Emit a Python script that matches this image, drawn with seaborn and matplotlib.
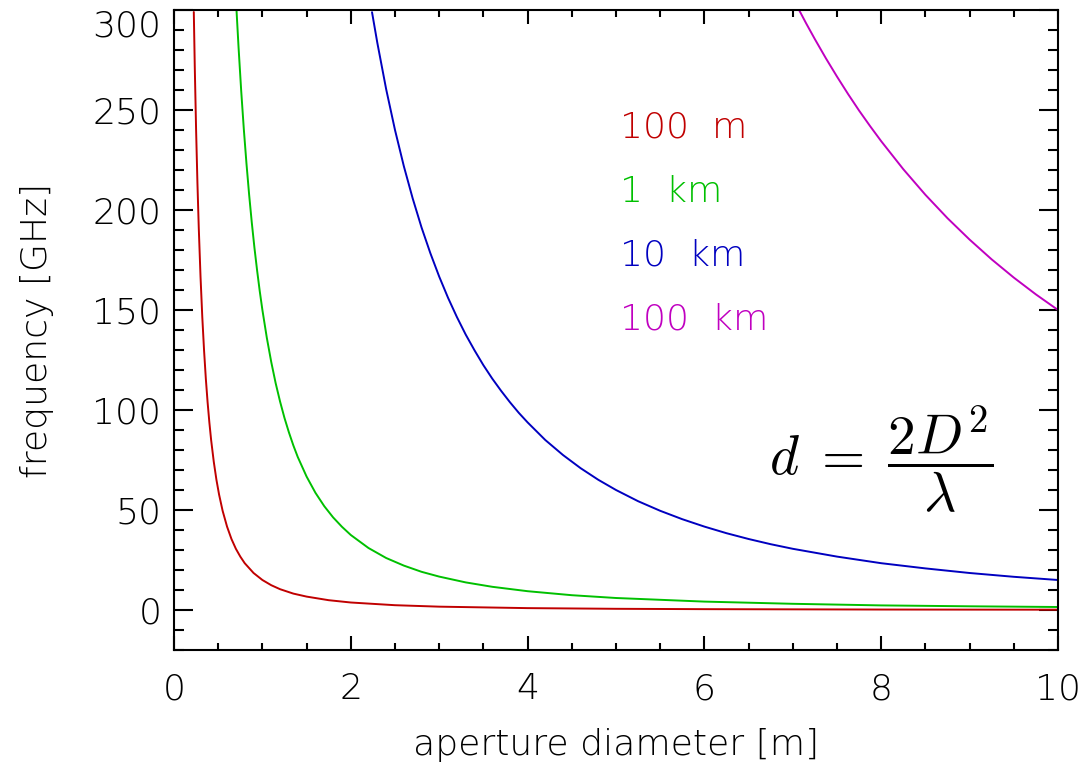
import seaborn as sns
import matplotlib.pyplot as plt
import pandas as pd

# aperture diameter [m] and frequency [GHz]
d_100m = [0.224, 0.235, 0.25, 0.265, 0.28, 0.3, 0.32, 0.34, 0.36, 0.38, 0.4, 0.42, 0.45, 0.48,
          0.51, 0.55, 0.6, 0.65, 0.7, 0.75, 0.8, 0.9, 1.0, 1.1, 1.2, 1.35, 1.5, 1.75, 2.0,
          2.5, 3.0, 4.0, 5.0, 6.0, 8.0, 10.0]
f_100m = [299, 271.6, 240, 213.6, 191.3, 166.7, 146.5, 129.8, 115.7, 103.9, 93.8, 85.0, 74.1, 65.1,
          57.7, 49.6, 41.7, 35.5, 30.6, 26.7, 23.4, 18.5, 15.0, 12.4, 10.4, 8.2, 6.7, 4.9, 3.75,
          2.4, 1.67, 0.94, 0.6, 0.42, 0.23, 0.15]

d_1km = [0.707, 0.73, 0.76, 0.79, 0.82, 0.85, 0.88, 0.91, 0.94, 0.97, 1.0, 1.05, 1.1, 1.15,
         1.2, 1.25, 1.3, 1.35, 1.4, 1.5, 1.6, 1.7, 1.8, 1.9, 2.0, 2.2, 2.4, 2.6, 2.8, 3.0,
         3.3, 3.6, 4.0, 4.5, 5.0, 6.0, 7.0, 8.0, 9.0, 10.0]
f_1km = [300, 281.5, 259.7, 240.3, 223.1, 207.6, 193.7, 181.1, 169.8, 159.4, 150, 136.1, 124.0, 113.4,
         104.2, 96.0, 88.8, 82.3, 76.5, 66.7, 58.6, 51.9, 46.3, 41.6, 37.5, 31.0, 26.0, 22.2, 19.1, 16.7,
         13.8, 11.6, 9.4, 7.4, 6.0, 4.2, 3.1, 2.3, 1.85, 1.5]

d_10km = [2.24, 2.3, 2.4, 2.5, 2.6, 2.7, 2.8, 2.9, 3.0, 3.1, 3.2, 3.3, 3.4, 3.5, 3.6, 3.7,
          3.8, 3.9, 4.0, 4.2, 4.4, 4.6, 4.8, 5.0, 5.25, 5.5, 5.75, 6.0, 6.25, 6.5, 6.75,
          7.0, 7.5, 8.0, 8.5, 9.0, 9.5, 10.0]
f_10km = [298.9, 283.6, 260.4, 240.0, 221.9, 205.8, 191.3, 178.4, 166.7, 156.1, 146.5, 137.7, 129.8,
          122.4, 115.7, 109.6, 103.9, 98.6, 93.8, 85.0, 77.5, 70.9, 65.1, 60.0, 54.4, 49.6, 45.4,
          41.7, 38.4, 35.5, 32.9, 30.6, 26.7, 23.4, 20.8, 18.5, 16.6, 15.0]

d_100km = [7.071, 7.15, 7.25, 7.375, 7.5, 7.625, 7.75, 7.875, 8.0, 8.25, 8.5, 8.75, 9.0,
           9.25, 9.5, 9.75, 10.0]
f_100km = [300, 293.4, 285.4, 275.8, 266.7, 258.0, 249.7, 241.9, 234.4, 220.4, 207.6, 195.9, 185.2,
           175.3, 166.2, 157.8, 150.0]

labels = ["100  m", "1  km", "10  km", "100  km"]
colors = ["#c00000", "#00c000", "#0000c0", "#c000c0"]

sns.set_style("ticks")
plt.rcParams['font.family'] = ['DejaVu Sans']
plt.rcParams['font.weight'] = 'light'
plt.rcParams['axes.labelweight'] = 'light'
plt.rcParams['text.color'] = 'black'
plt.rcParams['axes.labelcolor'] = 'black'
plt.rcParams['xtick.color'] = 'black'
plt.rcParams['ytick.color'] = 'black'
plt.rcParams['mathtext.fontset'] = 'cm'

fig = plt.figure(figsize=(10.85, 7.7), dpi=100)
ax = fig.add_axes([174 / 1085, 120 / 770, 884 / 1085, 640 / 770])

series = [(d_100m, f_100m), (d_1km, f_1km), (d_10km, f_10km), (d_100km, f_100km)]
for (d, f), c in zip(series, colors):
    df = pd.DataFrame({"D": d, "f": f})
    sns.lineplot(data=df, x="D", y="f", color=c, lw=1.4, ax=ax, sort=False)

ax.set_xlim(0, 10)
ax.set_ylim(-20, 300)
ax.set_xticks([0, 2, 4, 6, 8, 10])
ax.set_xticks([x * 0.5 for x in range(21)], minor=True)
ax.set_yticks([0, 50, 100, 150, 200, 250, 300])
ax.set_yticks(list(range(-20, 301, 10)), minor=True)
ax.tick_params(axis="both", which="both", direction="in", top=True, right=True,
               labelsize=26, width=1.5)
ax.tick_params(axis="x", which="major", length=10, pad=16)
ax.tick_params(axis="x", which="minor", length=5)
ax.tick_params(axis="y", which="major", length=14, pad=9)
ax.tick_params(axis="y", which="minor", length=7)
for s in ax.spines.values():
    s.set_linewidth(1.5)
    s.set_color("black")
# top label sits just below the frame, as in the original
ax.get_yticklabels()[-1].set_verticalalignment("top")

ax.set_xlabel("aperture diameter [m]", fontsize=26, labelpad=16, fontweight="light")
ax.set_ylabel("frequency [GHz]", fontsize=26, labelpad=28, fontweight="light")

for i, (lab, c) in enumerate(zip(labels, colors)):
    ax.text(5.05, 241 - i * 32, lab, color=c, fontsize=26, va="center", ha="left")

ax.text(8.0, 75, r"$d\;=\;\dfrac{2D^2}{\lambda}$", fontsize=40, ha="center", va="center")

plt.savefig("out.png", dpi=100)
